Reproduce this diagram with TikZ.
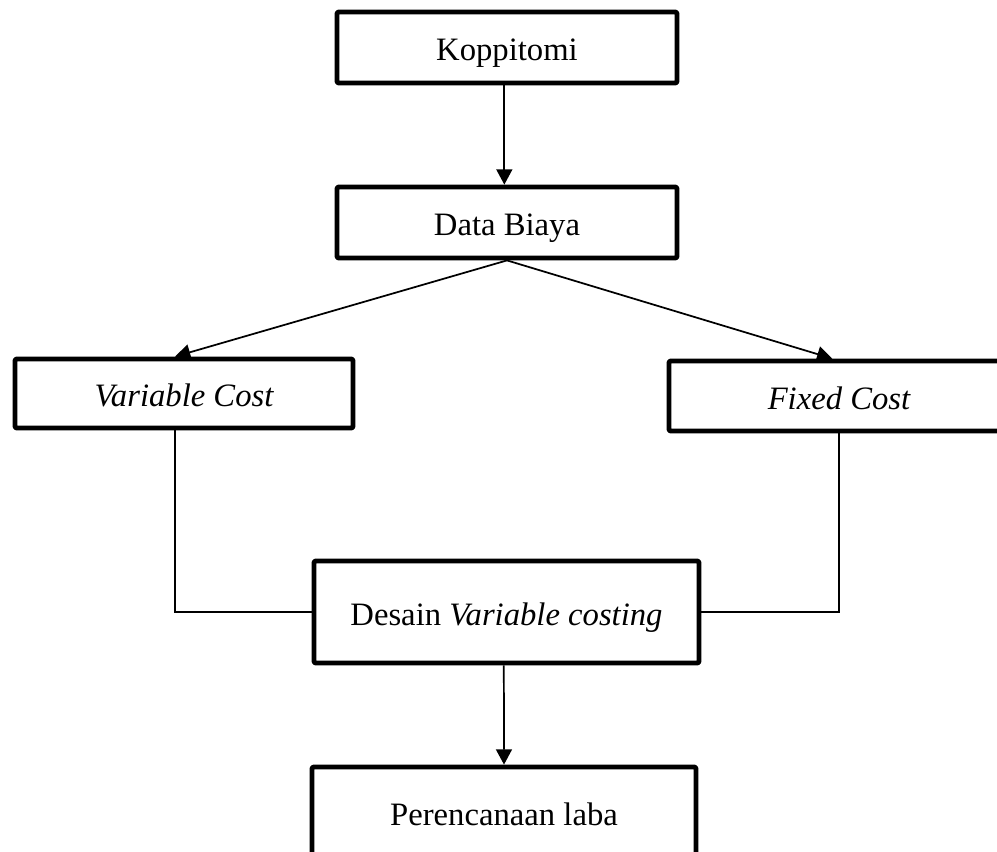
\documentclass[tikz,border=0pt]{standalone}
\usepackage{fontspec}
\setmainfont{Liberation Serif}
\usetikzlibrary{arrows.meta, positioning, calc}

\begin{document}
\begin{tikzpicture}[
		x=0.75pt, y=-0.75pt,
		blok/.style={
			draw=black, fill=white,
			line width=3.6pt, line join=round,
			rounded corners=1pt,
			inner sep=0pt, align=center,
			text height=20pt, text depth=0pt,
			font=\fontsize{24.5}{29}\selectfont
		},
		garis/.style={
			draw=black, line width=1.3pt
		},
		panah/.style={
			garis, -{Triangle[length=11.5pt, width=12pt]}
		}
		]
		
		\useasboundingbox (0,0) rectangle (997,851);
		
		% kotak atas
		\node[blok, minimum width=255pt, minimum height=53.25pt] (kop) at (507,47.5) {Koppitomi};
		\node[blok, minimum width=255pt, minimum height=53.25pt] (data) at (507,222.5) {Data Biaya};
		
		% jenis biaya
		\node[blok, minimum width=253.5pt, minimum height=51.75pt] (var) at (184,393.5) {\itshape Variable Cost};
		\node[blok, minimum width=255pt, minimum height=52.5pt] (fix) at (839,396) {\itshape Fixed Cost};
		
		% desain dan perencanaan
		\node[blok, minimum width=288.75pt, minimum height=76.5pt] (des) at (506.5,612) {Desain \textit{Variable costing}};
		\node[blok, minimum width=288pt, minimum height=67.5pt] (per) at (504,812) {Perencanaan laba};
		
		% panah
		\draw[panah] ([xshift=-2pt]kop.south) -- ([xshift=-2pt]data.north);
		\draw[panah] (data.south) -- ([xshift=-6.75pt]var.north);
		\draw[panah] (data.south) -- ([xshift=-5pt]fix.north);
		\draw[garis] ([xshift=-6.75pt]var.south) |- (des.west);
		\draw[garis] (fix.south) |- (des.east);
		\draw[panah] ([xshift=-2pt]des.south) -- (per.north);
		
	\end{tikzpicture}
\end{document}
